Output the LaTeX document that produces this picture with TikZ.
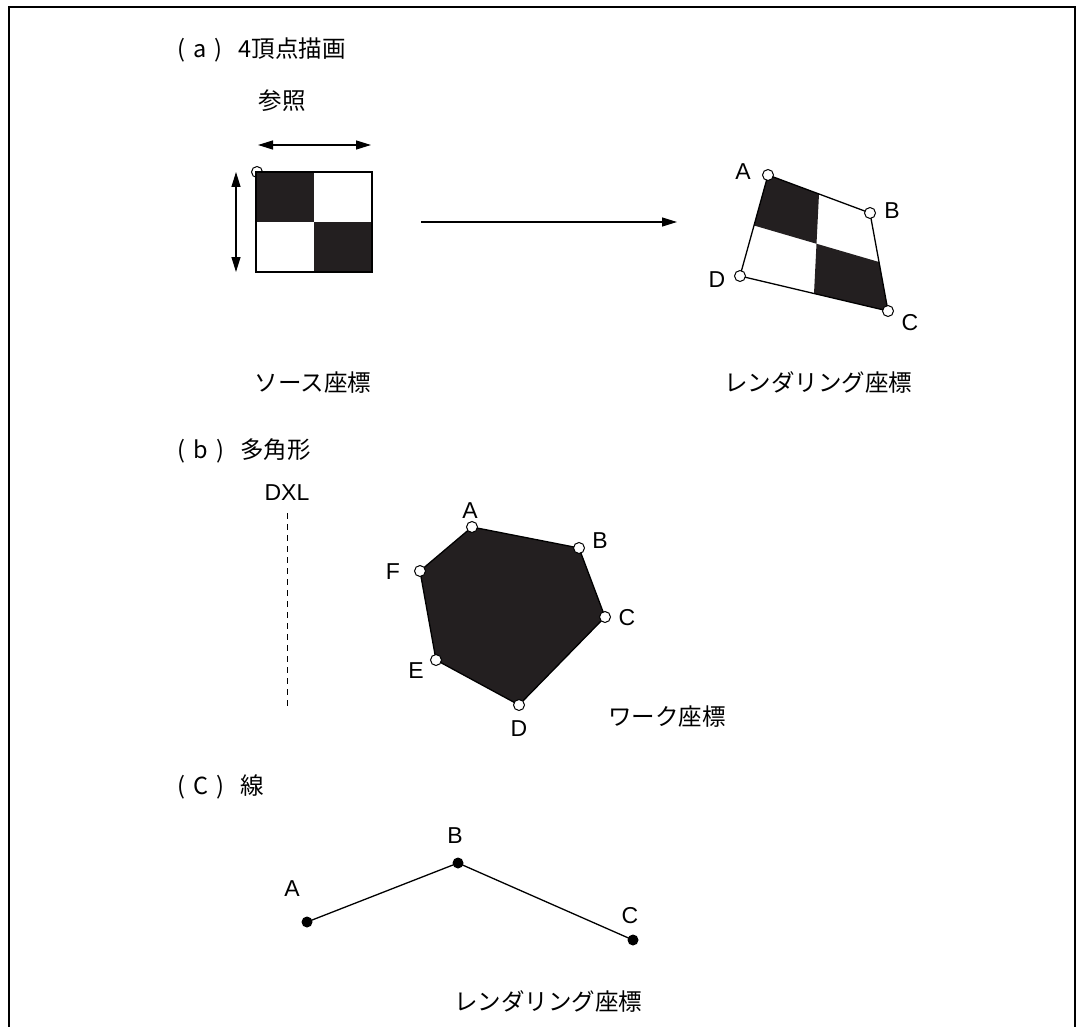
\documentclass[tikz,border=0pt]{standalone}
\usepackage{fontspec}
\setmainfont{Liberation Sans}
\newfontfamily\jp{Noto Sans CJK JP}
\usetikzlibrary{arrows.meta,calc}
\definecolor{ink}{RGB}{35,31,32}
\begin{document}
\begin{tikzpicture}[x=1pt,y=-1pt,line width=1.3pt,
  jtext/.style={font=\jp\fontsize{23.5}{25}\selectfont,inner sep=0},
  ltext/.style={font=\fontsize{23}{25}\selectfont,inner sep=0},
  overt/.style={circle,draw,fill=white,minimum size=11pt,inner sep=0,line width=1pt},
  dotv/.style={circle,fill=black,minimum size=11pt,inner sep=0},
  arr/.style={-{Triangle[length=15pt,width=9pt]}},
  darr/.style={{Triangle[length=15pt,width=9pt]}-{Triangle[length=15pt,width=9pt]}}]
\useasboundingbox (0,0) rectangle (1078,1027);
% frame
\draw[line width=1.5pt] (9,1027) -- (9,7) -- (1075,7) -- (1075,1027);

% ---------- (a)
\node[jtext,anchor=west] (ta) at (177,50) {(\hspace{8pt}a\hspace{8pt})\hspace{16pt}4頂点描画};
\node[jtext] (ref) at (282,101) {参照};
\coordinate (h1) at (258,145);
\coordinate (h2) at (371,145);
\draw[darr] (h1) -- (h2);
\coordinate (v1) at (236,172);
\coordinate (v2) at (236,272);
\draw[darr] (v1) -- (v2);
\node[overt] (sv) at (257,172) {};
\fill[ink] (256,172) rectangle (314,222);
\fill[ink] (314,222) rectangle (372,272);
\node[draw,minimum width=116pt,minimum height=100pt,inner sep=0] (src) at (314,222) {};
\coordinate (m1) at (421,222);
\coordinate (m2) at (677,222);
\draw[arr] (m1) -- (m2);

\coordinate (pA) at (768,175);
\coordinate (pB) at (870,213);
\coordinate (pC) at (888,311);
\coordinate (pD) at (740,276);
\coordinate (pAB) at ($(pA)!0.5!(pB)$);
\coordinate (pBC) at ($(pB)!0.5!(pC)$);
\coordinate (pCD) at ($(pC)!0.5!(pD)$);
\coordinate (pDA) at ($(pD)!0.5!(pA)$);
\coordinate (pM) at ($(pAB)!0.5!(pCD)$);
\fill[ink] (pA) -- (pAB) -- (pM) -- (pDA) -- cycle;
\fill[ink] (pM) -- (pBC) -- (pC) -- (pCD) -- cycle;
\draw (pA) -- (pB) -- (pC) -- (pD) -- cycle;
\node[overt] (qA) at (pA) {};
\node[overt] (qB) at (pB) {};
\node[overt] (qC) at (pC) {};
\node[overt] (qD) at (pD) {};
\node[ltext] (lqA) at (743,172) {A};
\node[ltext] (lqB) at (892,211) {B};
\node[ltext] (lqC) at (910,323) {C};
\node[ltext] (lqD) at (717,280) {D};

\node[jtext] (srcl) at (313,383) {ソース座標};
\node[jtext] (rndl) at (818,383) {レンダリング座標};

% ---------- (b)
\node[jtext,anchor=west] (tb) at (177,451) {(\hspace{8pt}b\hspace{8pt})\hspace{16pt}多角形};
\node[ltext] (dxl) at (287,493) {DXL};
\coordinate (d1) at (287,513);
\coordinate (d2) at (287,708);
\draw[line width=0.9pt,dash pattern=on 6pt off 5pt] (d1) -- (d2);

\coordinate (gA) at (472,527);
\coordinate (gB) at (579,548);
\coordinate (gC) at (605,617);
\coordinate (gD) at (519,705);
\coordinate (gE) at (436,660);
\coordinate (gF) at (420,571);
\filldraw[fill=ink] (gA) -- (gB) -- (gC) -- (gD) -- (gE) -- (gF) -- cycle;
\node[overt] (nA) at (gA) {};
\node[overt] (nB) at (gB) {};
\node[overt] (nC) at (gC) {};
\node[overt] (nD) at (gD) {};
\node[overt] (nE) at (gE) {};
\node[overt] (nF) at (gF) {};
\node[ltext] (lnA) at (470,511) {A};
\node[ltext] (lnB) at (600,541) {B};
\node[ltext] (lnC) at (627,618) {C};
\node[ltext] (lnD) at (519,729) {D};
\node[ltext] (lnE) at (416,671) {E};
\node[ltext] (lnF) at (393,572) {F};
\node[jtext] (work) at (667,717) {ワーク座標};

% ---------- (c)
\node[jtext,anchor=west] (tc) at (177,787) {(\hspace{8pt}C\hspace{8pt})\hspace{16pt}線};
\coordinate (cA) at (307,922);
\coordinate (cB) at (458,863);
\coordinate (cC) at (633,940);
\draw (cA) -- (cB) -- (cC);
\node[dotv] (kA) at (cA) {};
\node[dotv] (kB) at (cB) {};
\node[dotv] (kC) at (cC) {};
\node[ltext] (lkA) at (292,889) {A};
\node[ltext] (lkB) at (455,836) {B};
\node[ltext] (lkC) at (630,916) {C};
\node[jtext] (rnd2) at (548,1001) {レンダリング座標};
\end{tikzpicture}
\end{document}
